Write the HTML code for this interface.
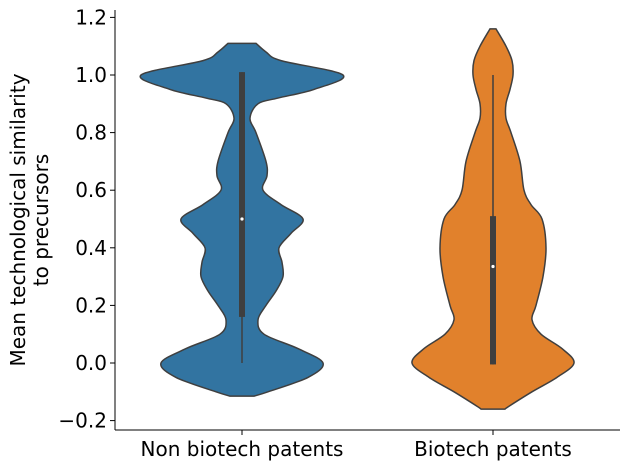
<!DOCTYPE html>
<html><head><meta charset="utf-8"><style>
body{margin:0;background:#fff;}
text{font-family:"DejaVu Sans","Liberation Sans",sans-serif;fill:#000;}
</style></head><body>
<svg id="c" width="630" height="469" xmlns="http://www.w3.org/2000/svg"></svg>
<script>
const categories=["Non biotech patents","Biotech patents"];
const colors=["#3274a1","#e1812c"];
const yTicks=[-0.2,0,0.2,0.4,0.6,0.8,1.0,1.2];
const yTickLabels=["\u22120.2","0.0","0.2","0.4","0.6","0.8","1.0","1.2"];
const densY1=[1.11,1.08,1.05,1.0,0.95,0.92,0.9,0.85,0.8,0.7,0.65,0.6,0.55,0.5,0.45,0.4,0.35,0.3,0.25,0.2,0.15,0.1,0.05,0,-0.05,-0.1,-0.115];
const densW1=[14,24,39,101,72,36,16,8,14,24,25,21,39,61,49,37,40,41,34,24,16,22,56,81,66,26,12];
const densY2=[1.16,1.1,1.05,1.0,0.95,0.9,0.85,0.8,0.7,0.6,0.55,0.5,0.4,0.3,0.2,0.15,0.1,0.05,0,-0.05,-0.1,-0.15,-0.16];
const densW2=[3,13,19,20,17,13,13,18,27,31,38,49,53,50,43,39,48,69,81,64,39,16,12];
const boxQ1=[0.16,-0.005];
const boxQ3=[1.01,0.51];
const medians=[0.5,0.335];
const whiskLo=[0,-0.005];
const whiskHi=[1.01,1.0];
const dens=[[densY1,densW1],[densY2,densW2]];

const svg=document.getElementById('c');
const NS="http://www.w3.org/2000/svg";
const L=115,R=620,T=10,B=430;
const y=v=>363-v*288;
const xc=i=>242+i*251;
function mk(t,a,name){const e=document.createElementNS(NS,t);for(const k in a)e.setAttribute(k,a[k]);


svg.appendChild(e);return e;}
function smooth(pts){let d="M"+pts[0][0]+","+pts[0][1];
for(let i=0;i<pts.length-1;i++){const p0=pts[i-1]||pts[i],p1=pts[i],p2=pts[i+1],p3=pts[i+2]||p2;
d+=" C"+(p1[0]+(p2[0]-p0[0])/6)+","+(p1[1]+(p2[1]-p0[1])/6)+" "+(p2[0]-(p3[0]-p1[0])/6)+","+(p2[1]-(p3[1]-p1[1])/6)+" "+p2[0]+","+p2[1];}
return d;}
dens.forEach((dw,i)=>{
  const [ys,ws]=dw;const c=xc(i);
  const right=ys.map((v,j)=>[c+ws[j],y(v)]);
  const left=ys.map((v,j)=>[c-ws[j],y(v)]).reverse();
  let d=smooth(right)+" L"+left[0][0]+","+left[0][1]+smooth(left).replace(/^M[^ ]+/,"")+" Z";
  mk('path',{d:d,fill:colors[i],stroke:'#3f3f3f','stroke-width':1.5},'violin-'+(i+1));
  mk('line',{x1:c,x2:c,y1:y(whiskLo[i]),y2:y(whiskHi[i]),stroke:'#3f3f3f','stroke-width':1.5},'whisker-'+(i+1));
  mk('rect',{x:c-3,y:y(boxQ3[i]),width:6,height:y(boxQ1[i])-y(boxQ3[i]),fill:'#3f3f3f'},'box-'+(i+1));
  mk('circle',{cx:c,cy:y(medians[i]),r:1.6,fill:'#fff'},'median-'+(i+1));
  mk('line',{x1:c,x2:c,y1:B,y2:B+5,stroke:'#000','stroke-width':1},'x-tick');
  const t=mk('text',{x:c,y:B+26,'text-anchor':'middle','font-size':20},'x-tick-label');t.textContent=categories[i];
});
yTicks.forEach((v,j)=>{
  mk('line',{x1:L-5,x2:L,y1:y(v),y2:y(v),stroke:'#000','stroke-width':1},'y-tick');
  const t=mk('text',{x:L-8,y:y(v)+7,'text-anchor':'end','font-size':20},'y-tick-label');t.textContent=yTickLabels[j];
});
mk('line',{x1:L,x2:L,y1:T,y2:B,stroke:'#000','stroke-width':1},'y-axis');
mk('line',{x1:L,x2:R,y1:B,y2:B,stroke:'#000','stroke-width':1},'x-axis');
const yt=mk('text',{transform:'translate(25,220) rotate(-90)','text-anchor':'middle','font-size':20},'y-axis-title');
yt.innerHTML='<tspan x="0" dy="0">Mean technological similarity</tspan><tspan x="0" dy="23">to precursors</tspan>';
</script>
</body></html>
